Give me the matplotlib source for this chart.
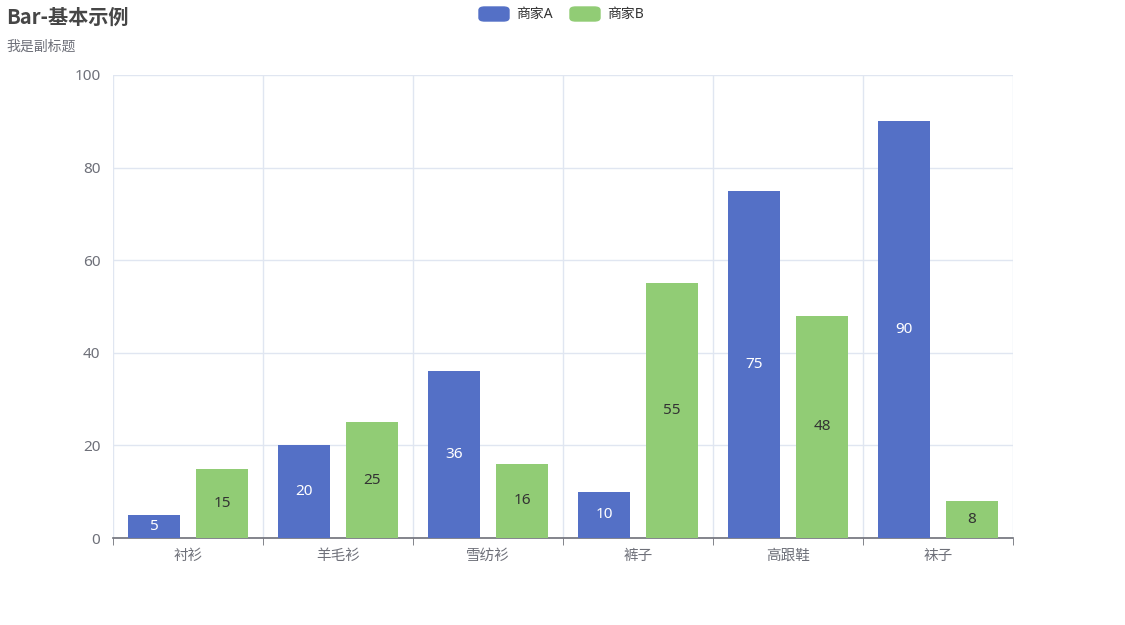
import matplotlib.pyplot as plt
from matplotlib.patches import FancyBboxPatch

plt.rcParams['font.family'] = ['Noto Sans', 'Noto Sans CJK SC', 'DejaVu Sans']

categories = ['衬衫', '羊毛衫', '雪纺衫', '裤子', '高跟鞋', '袜子']
shop_a = [5, 20, 36, 10, 75, 90]
shop_b = [15, 25, 16, 55, 48, 8]
series_names = ['商家A', '商家B']
colors = ['#5470C6', '#91CC75']
y_ticks = [0, 20, 40, 60, 80, 100]

fig = plt.figure(figsize=(11.25, 6.25), dpi=100)
ax = fig.add_axes([113 / 1125, 87 / 625, 900 / 1125, 463 / 625])

x = list(range(len(categories)))
width = 0.347
offset = 0.227
bars_a = ax.bar([i - offset for i in x], shop_a, width, color=colors[0], zorder=3)
bars_b = ax.bar([i + offset for i in x], shop_b, width, color=colors[1], zorder=3)

# value labels in the middle of each bar
for bars, vals, tc in ((bars_a, shop_a, 'white'), (bars_b, shop_b, '#333333')):
    for b, v in zip(bars, vals):
        ax.text(b.get_x() + b.get_width() / 2, v / 2, str(v), ha='center', va='center',
                color=tc, fontsize=11, zorder=4)

ax.set_xlim(-0.5, len(categories) - 0.5)
ax.set_ylim(0, 100)
ax.set_yticks(y_ticks)
ax.set_yticklabels([str(t) for t in y_ticks])

# category labels centered, ticks at boundaries
ax.set_xticks(x)
ax.set_xticklabels(categories)
ax.set_xticks([i - 0.5 for i in range(len(categories) + 1)], minor=True)
ax.tick_params(axis='x', which='major', length=0, labelsize=10.5, colors='#6E7079', pad=8)
ax.tick_params(axis='x', which='minor', length=5, color='#6E7079', direction='out')
ax.tick_params(axis='y', length=0, labelsize=11, colors='#6E7079', pad=9)

ax.grid(axis='y', color='#E0E6F1', linewidth=1, zorder=0)
ax.grid(axis='x', which='minor', color='#E0E6F1', linewidth=1, zorder=0)
for s in ('top', 'right', 'left'):
    ax.spines[s].set_visible(False)
ax.spines['bottom'].set_color('#6E7079')
ax.spines['bottom'].set_linewidth(1.2)

fig.text(6 / 1125, 1 - 17 / 625, 'Bar-基本示例', fontsize=14.5, fontweight='bold',
         color='#464646', va='center', ha='left', family=['Noto Sans CJK SC'])
fig.text(6 / 1125, 1 - 47 / 625, '我是副标题', fontsize=10, color='#6E7079',
         va='center', ha='left')

# legend
leg_items = [(479, series_names[0], colors[0]), (570, series_names[1], colors[1])]
for px, name, c in leg_items:
    fig.patches.append(FancyBboxPatch((px / 1125, 1 - 21 / 625), 30 / 1125, 14 / 625,
                                      boxstyle='round,pad=0,rounding_size=0.005',
                                      transform=fig.transFigure, color=c))
    fig.text((px + 37) / 1125, 1 - 14 / 625, name, fontsize=10, color='#333333',
             va='center', ha='left')

fig.savefig('out.png', dpi=100)
